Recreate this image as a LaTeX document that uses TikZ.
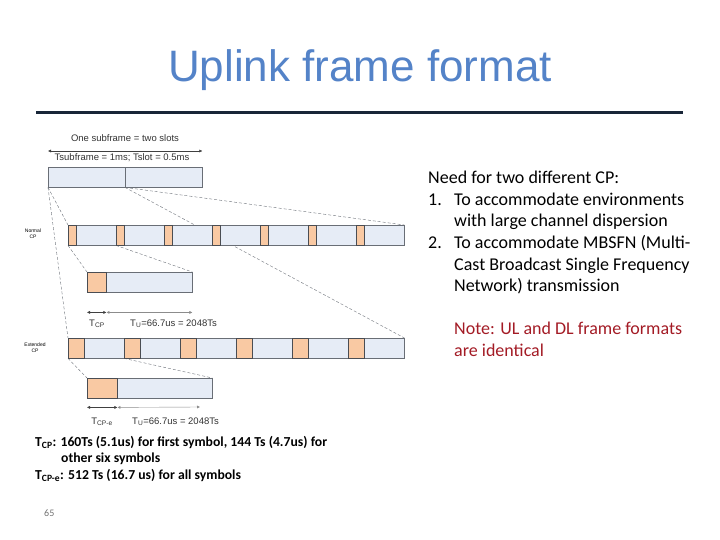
\documentclass[tikz,border=0pt]{standalone}
\usepackage{fontspec}
\setmainfont{Carlito}
\newfontfamily\arialfont{Liberation Sans}
\usetikzlibrary{arrows.meta,positioning,backgrounds}
\definecolor{titleblue}{RGB}{84,131,200}
\definecolor{rulenavy}{RGB}{24,38,56}
\definecolor{cporange}{RGB}{249,201,163}
\definecolor{symfill}{RGB}{230,236,246}
\definecolor{framegray}{RGB}{105,110,118}
\definecolor{notered}{RGB}{163,27,37}

\begin{document}
\begin{tikzpicture}[x=1pt,y=-1pt,
  slotbox/.style={rectangle, draw=framegray, fill=symfill, inner sep=0pt,
                  anchor=north west, minimum height=20pt},
  cpbox/.style={rectangle, draw=framegray!70!black, fill=cporange, inner sep=0pt,
                anchor=north west, minimum height=20pt},
  guide/.style={densely dashed, thin, framegray},
  dim/.style={{Latex[length=3pt,width=3pt]}-{Latex[length=3pt,width=3pt]}, thin, black!75},
  lbl/.style={font=\arialfont\fontsize{9.5}{11}\selectfont, text=black!80, inner sep=0pt},
  tinylbl/.style={font=\arialfont\fontsize{5}{6}\selectfont, align=center, inner sep=0pt},
  body/.style={font=\fontsize{18}{21.6}\selectfont, align=left, inner sep=0pt,
               anchor=north west}
]
\useasboundingbox (0,0) rectangle (720,540);

% title and rule
\node[font=\arialfont\fontsize{44}{50}\selectfont, text=titleblue, anchor=base,
      inner sep=0pt] (title) at (360,82) {Uplink frame format};
\draw[rulenavy, line width=3pt] (36,113) -- (683,113);

% one subframe
\node[slotbox, minimum width=77pt] (slot1) at (48,167) {};
\node[slotbox, minimum width=77pt] (slot2) at (125,167) {};
\draw[dim] ([yshift=16pt]slot1.north west) -- ([yshift=16pt]slot2.north east);
\node[lbl, anchor=base] (sublbl) at (125,142) {One subframe = two slots};
\node[lbl, anchor=base] (tlbl) at (122,161) {Tsubframe = 1ms; Tslot = 0.5ms};

% normal CP: 7 symbols per slot
\node[tinylbl] (normlbl) at (33,234) {Normal\\CP};
\node[slotbox, minimum width=336pt] (nframe) at (68,225) {};
\foreach \i in {0,...,6}
  \node[cpbox, minimum width=8pt] (ncp\i) at ({68+48*\i},225) {};

\node[slotbox, minimum width=105pt] (nsym) at (87,272) {};
\node[cpbox, minimum width=19pt] (nsymcp) at (87,272) {};
\draw[dim] ([yshift=-20pt]nsym.south west) -- ([yshift=-20pt]nsymcp.south east);
\draw[dim, black!45] ([yshift=-20pt]nsymcp.south east) -- ([yshift=-20pt]nsym.south east);
\node[lbl, anchor=base] (tcp) at (97,326) {T\textsubscript{CP}};
\node[lbl, anchor=base west] (tu) at (130,326) {T\textsubscript{U}=66.7us = 2048Ts};

% extended CP: 6 symbols per slot
\node[tinylbl] (extlbl) at (35,348) {Extended\\CP};
\node[slotbox, minimum width=336pt] (eframe) at (68,338) {};
\foreach \i in {0,...,5}
  \node[cpbox, minimum width=16pt] (ecp\i) at ({68+56*\i},338) {};

\node[slotbox, minimum width=125pt] (esym) at (87,378) {};
\node[cpbox, minimum width=30pt] (esymcp) at (87,378) {};
\coordinate (eend) at (200,407);
\draw[dim] ([yshift=-9pt]esym.south west) -- ([yshift=-9pt]esymcp.south east);
\draw[dim, black!45] ([yshift=-9pt]esymcp.south east) -- (eend);
\node[lbl, anchor=base] (tcpe) at (102,424) {T\textsubscript{CP-e}};
\node[lbl, anchor=base west] (tue) at (132,424) {T\textsubscript{U}=66.7us = 2048Ts};

% zoom lines
\begin{scope}[on background layer]
\draw[guide] (slot1.south west) -- (nframe.north west);
\draw[guide] (slot1.south west) -- (eframe.north west);
\draw[guide] (slot2.south west) -- (nframe.north east);
\draw[guide] (slot2.south west) -- (eframe.north east);
\draw[guide] (ncp0.south west) -- (nsym.north west);
\draw[guide] (ncp1.south west) -- (nsym.north east);
\draw[guide] (ecp0.south west) -- (esym.north west);
\draw[guide] (ecp1.south west) -- (esym.north east);
\end{scope}

% notes
\node[font=\bfseries\fontsize{13.7}{16.5}\selectfont, align=left, inner sep=0pt, anchor=north west]
  (cpnote) at (35,436) {T\textsubscript{CP}: 160Ts (5.1us) for first symbol, 144 Ts (4.7us) for\\
  \hspace*{26pt}other six symbols\\
  T\textsubscript{CP-e}: 512 Ts (16.7 us) for all symbols};
\node[font=\fontsize{10}{12}\selectfont, text=black!55, anchor=base west, inner sep=0pt]
  (pagenum) at (44,516) {65};

\node[body] (need) at (428,171) {Need for two different CP:\\
  \makebox[26pt][l]{1.}To accommodate environments\\
  \hspace*{26pt}with large channel dispersion\\
  \makebox[26pt][l]{2.}To accommodate MBSFN (Multi-\\
  \hspace*{26pt}Cast Broadcast Single Frequency\\
  \hspace*{26pt}Network) transmission\\[21.6pt]
  \hspace*{26pt}\textcolor{notered}{Note: UL and DL frame formats}\\
  \hspace*{26pt}\textcolor{notered}{are identical}};
\end{tikzpicture}
\end{document}
